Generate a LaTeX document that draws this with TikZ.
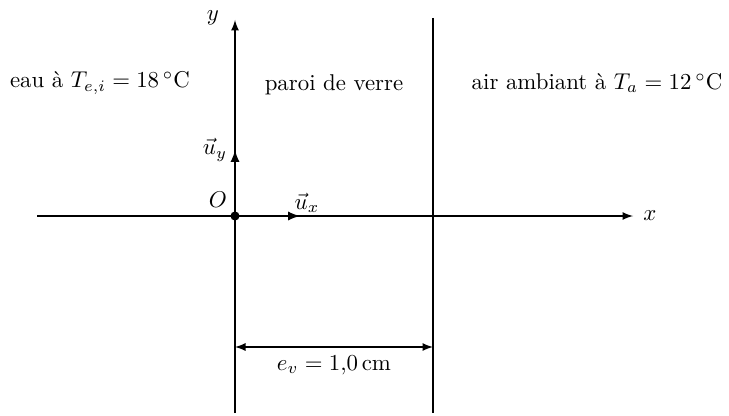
\documentclass[tikz,border=0pt]{standalone}
\usepackage{tikz}
\usetikzlibrary{arrows,positioning}

\begin{document}
\begin{tikzpicture}[x=0.0154cm,y=-0.0154cm]
				\useasboundingbox (0,0) rectangle (729,415);
				\coordinate (O) at (235,216);
				\coordinate (xstart) at (37,216);
				\coordinate (xend) at (633,216);
				\coordinate (ybot) at (235,413);
				\coordinate (ytop) at (235,20);
				\coordinate (wtop) at (433,18);
				\coordinate (wbot) at (433,413);
				\coordinate (ux) at (300,216);
				\coordinate (uy) at (235,150);
				\coordinate (dimleft) at (235,347);
				\coordinate (dimright) at (433,347);
				\node[right=1pt of xend] (xlab) {$x$};
				\node at (213,18) (ylab) {$y$};
				\node at (218,200) (olab) {$O$};
				\node at (307,203) (uxlab) {$\vec{u}_x$};
				\node at (215,150) (uylab) {$\vec{u}_y$};
				\node at (100,83) (eau) {eau à $T_{e,i} = 18\,^\circ$C};
				\node at (334,85) (paroi) {paroi de verre};
				\node at (597,83) (air) {air ambiant à $T_a = 12\,^\circ$C};
				\node at (334,365) (ev) {$e_v = 1{,}0\,\mathrm{cm}$};
				\draw[semithick, -latex] (xstart) -- (xend);
				\draw[semithick, -latex] (ybot) -- (ytop);
				\draw[semithick] (wtop) -- (wbot);
				\draw[thick, -latex] (O) -- (ux);
				\draw[thick, -latex] (O) -- (uy);
				\draw[semithick, latex-latex] (dimleft) -- (dimright);
				\fill (O) circle (2pt);
			\end{tikzpicture}
\end{document}
